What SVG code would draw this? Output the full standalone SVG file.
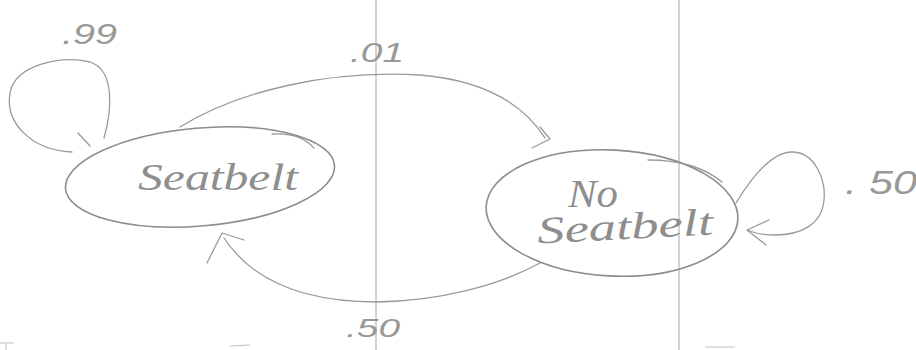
<svg xmlns="http://www.w3.org/2000/svg" width="916" height="350" viewBox="0 0 916 350">
<style>
.bg{fill:#ffffff}
.rule{stroke:#a8a8a8;stroke-width:1;fill:none}
.node{fill:none;stroke:#8c8c8c;stroke-width:1.6}
.edge{fill:none;stroke:#9a9a9a;stroke-width:1.3;stroke-linecap:round;stroke-linejoin:round}
.hand{font-family:"Liberation Serif","DejaVu Serif",serif;font-style:italic;fill:#8e8e8e}
.lbl{font-family:"Liberation Sans","DejaVu Sans",sans-serif;font-style:italic;fill:#999999}
.noise{stroke:#c0c0c0;stroke-width:1.1;fill:none}
</style>
<rect class="bg" x="0" y="0" width="916" height="350"/>
<g id="page-rules">
<line class="rule" x1="376" y1="0" x2="376" y2="350"/>
<line class="rule" x1="679" y1="0" x2="679" y2="350"/>
<path class="noise" d="M0 343 L14 343 M6 343 L6 350 M230 346 L250 345 M705 347 L735 347"/>
</g>
<g id="connectors">
<g id="edge-seatbelt-self">
<path class="edge" d="M72 152 C30 150 5 122 10 93 C15 65 60 55 90 62 C115 70 112 110 104 138"/>
<path class="edge" d="M78 133 L90 146"/>
</g>
<g id="edge-seatbelt-noseatbelt">
<path class="edge" d="M180 127 C240 90 330 70 420 75 C480 80 522 102 545 138"/>
<path class="edge" d="M532 148 L550 139 L540 127"/>
</g>
<g id="edge-noseatbelt-self">
<path class="edge" d="M736 203 C750 180 770 152 792 152 C815 152 826 180 824 200 C822 225 800 235 775 235 C762 235 752 232 748 230"/>
<path class="edge" d="M769 220 L747 230 L766 245"/>
</g>
<g id="edge-noseatbelt-seatbelt">
<path class="edge" d="M540 263 C500 285 440 301 377 302 C310 302 255 285 224 238"/>
<path class="edge" d="M207 263 L222 233 L244 240"/>
</g>
</g>
<g id="node-seatbelt">
<ellipse class="node" cx="200" cy="177" rx="135" ry="49" transform="rotate(-5 200 177)"/>
<path class="edge" d="M272 134 Q300 132 314 148"/>
<text class="hand" x="138" y="190" font-size="38" textLength="160" lengthAdjust="spacingAndGlyphs">Seatbelt</text>
</g>
<g id="node-noseatbelt">
<ellipse class="node" cx="612" cy="213" rx="126" ry="63" transform="rotate(3 612 213)"/>
<path class="edge" d="M648 160 C680 160 705 168 722 182"/>
<text class="hand" x="568" y="207" font-size="40" textLength="50" lengthAdjust="spacingAndGlyphs">No</text>
<text class="hand" x="537" y="239" font-size="38" textLength="176" lengthAdjust="spacingAndGlyphs" transform="rotate(-3 625 225)">Seatbelt</text>
</g>
<g id="labels">
<text class="lbl" x="62" y="44" font-size="30" textLength="55" lengthAdjust="spacingAndGlyphs">.99</text>
<text class="lbl" x="350" y="62" font-size="28" textLength="54" lengthAdjust="spacingAndGlyphs">.01</text>
<text class="lbl" x="845" y="194" font-size="33" textLength="72" lengthAdjust="spacingAndGlyphs">. 50</text>
<text class="lbl" x="346" y="337" font-size="26" textLength="54" lengthAdjust="spacingAndGlyphs">.50</text>
</g>
</svg>
